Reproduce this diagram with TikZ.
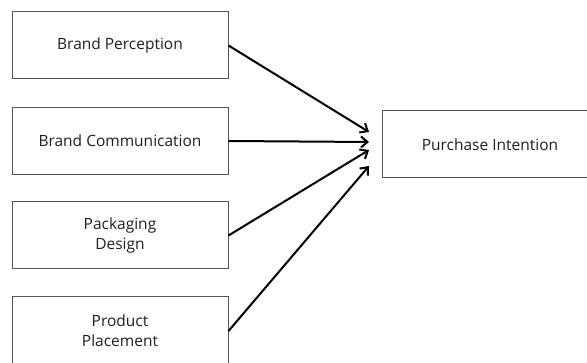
\documentclass[tikz,border=0pt]{standalone}
\usepackage{fontspec}
\setmainfont{Open Sans}
\usetikzlibrary{arrows.meta}
\definecolor{txt}{HTML}{1E1E1E}
\definecolor{bord}{HTML}{555555}
\tikzset{
  box/.style={draw=bord, line width=1pt, minimum width=216pt, minimum height=67pt,
    inner sep=0pt, align=center, text=txt, font=\fontsize{15.5}{20}\selectfont},
  link/.style={line width=2pt, -{Straight Barb[length=6.5pt,width=11pt,line width=2pt]}}
}
\begin{document}
\begin{tikzpicture}[x=1pt,y=-1pt]
\useasboundingbox (0,0) rectangle (587,363);
\begin{scope}
\clip (0,0) rectangle (587,363);
\node[box] (bp) at (120,45.5) {Brand Perception};
\node[box] (bc) at (120,141) {Brand Communication};
\node[box] (pd) at (120,235.5) {Packaging\\Design};
\node[box, minimum height=68pt] (pp) at (120,331) {Product\\Placement};
\node[box] (pi) at (490,144.5) {Purchase Intention};
\coordinate (t1) at (369,132);
\coordinate (t2) at (369,142);
\coordinate (t3) at (369,150);
\coordinate (t4) at (369,166);
\draw[link] (bp.east) -- (t1);
\draw[link] (bc.east) -- (t2);
\draw[link] (pd.east) -- (t3);
\draw[link] (pp.east) -- (t4);
\end{scope}
\end{tikzpicture}
\end{document}
